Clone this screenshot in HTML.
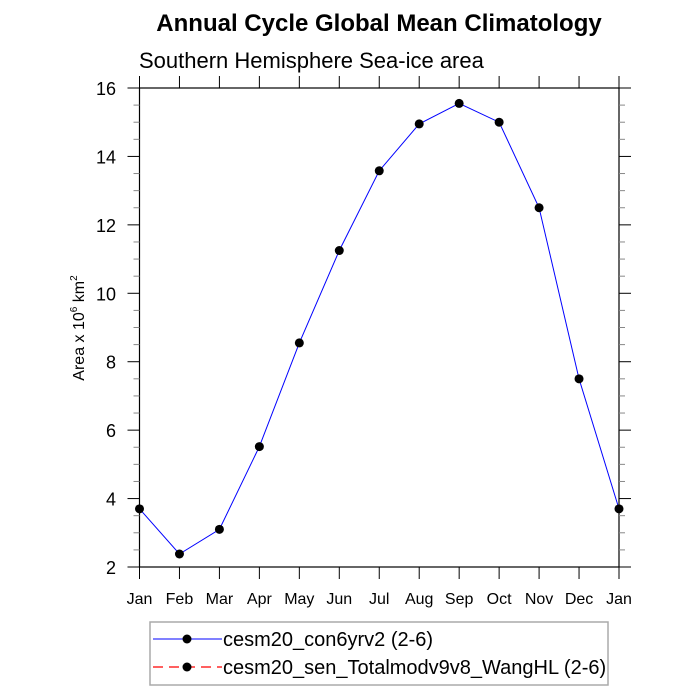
<!DOCTYPE html>
<html><head><meta charset="utf-8"><style>
body{margin:0;background:#fff;}
svg{display:block;font-family:"Liberation Sans",sans-serif;}
</style></head><body>
<svg id="c" width="700" height="700">
<text x="379" y="31" text-anchor="middle" font-size="24" font-weight="bold">Annual Cycle Global Mean Climatology</text>
<text x="139" y="68" font-size="22">Southern Hemisphere Sea-ice area</text>
<text transform="translate(84,328) rotate(-90)" text-anchor="middle" font-size="16">Area x 10<tspan font-size="10" dy="-7">6</tspan><tspan dy="7"> km</tspan><tspan font-size="10" dy="-7">2</tspan></text>
<g id="axes"></g>
<g id="marks"></g>
<g>
<rect x="150" y="622" width="458" height="63" fill="none" stroke="#aaa" stroke-width="1.5"/>
<g>
<line x1="153" y1="639" x2="222" y2="639" stroke="#0000ff" stroke-width="1"/>
<circle cx="187" cy="639" r="4.5" fill="#000"/>
<text x="223" y="646" font-size="20">cesm20_con6yrv2 (2-6)</text>
</g>
<g>
<line x1="153" y1="667" x2="222" y2="667" stroke="#ff0000" stroke-width="1.3" stroke-dasharray="10,6"/>
<circle cx="187" cy="667" r="4.5" fill="#000"/>
<text x="223" y="674" font-size="20">cesm20_sen_Totalmodv9v8_WangHL (2-6)</text>
</g>
</g>
</svg>
<script>
const months=["Jan","Feb","Mar","Apr","May","Jun","Jul","Aug","Sep","Oct","Nov","Dec","Jan"];
const seaIce=[3.7,2.38,3.1,5.52,8.55,11.25,13.58,14.95,15.55,15.0,12.5,7.5,3.7];
const yTicks=[2,4,6,8,10,12,14,16];
const L=139.5,R=619,T=88,B=567,NS="http://www.w3.org/2000/svg";
const xs=i=>L+(R-L)*i/12, ys=v=>B-(v-2)*(B-T)/14;
function mk(t,a,p){const e=document.createElementNS(NS,t);for(const k in a)e.setAttribute(k,a[k]);p.appendChild(e);return e;}
const ax=document.getElementById('axes'),mg=document.getElementById('marks');
const fr=mk('rect',{x:L,y:T,width:R-L,height:B-T,fill:'none',stroke:'#000','stroke-width':1.2},ax);


for(let i=0;i<=12;i++){const x=xs(i);
 mk('line',{x1:x,y1:B,x2:x,y2:B+12,stroke:'#000'},ax);
 mk('line',{x1:x,y1:T,x2:x,y2:T-12,stroke:'#000'},ax);
 const t=mk('text',{x:x,y:B+37,'text-anchor':'middle','font-size':16},ax);t.textContent=months[i];
 
 }
for(let v=2;v<=16.001;v+=0.5){const y=ys(v);const maj=Math.abs(v-Math.round(v/2)*2)<1e-6;const len=maj?12:6;
 mk('line',{x1:L-len,y1:y,x2:L,y2:y,stroke:maj?'#000':'#888'},ax);
 mk('line',{x1:R,y1:y,x2:R+len,y2:y,stroke:maj?'#000':'#888'},ax);}
yTicks.forEach(v=>{const t=mk('text',{x:116,y:ys(v)+7,'text-anchor':'end','font-size':18},ax);t.textContent=v;
 
 });
const pl=mk('polyline',{points:seaIce.map((v,i)=>xs(i)+','+ys(v)).join(' '),fill:'none',stroke:'#0000ff','stroke-width':1},mg);


seaIce.forEach((v,i)=>{const c=mk('circle',{cx:xs(i),cy:ys(v),r:4.5,fill:'#000'},mg);
 
 });
</script>
</body></html>
